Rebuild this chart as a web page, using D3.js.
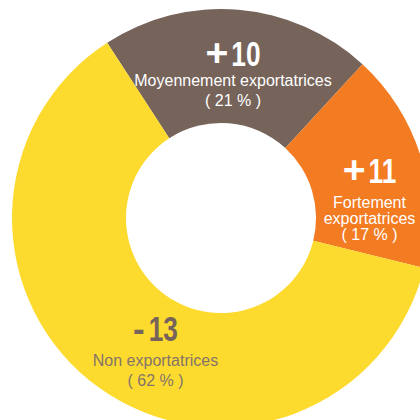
<!DOCTYPE html>
<html>
<head>
<meta charset="utf-8">
<script src="https://cdn.jsdelivr.net/npm/d3@7"></script>
<style>
  html, body { margin: 0; padding: 0; background: #ffffff; }
  svg { display: block; }
</style>
</head>
<body>
<script>
// Share of firms by export intensity, and change in number
const categories = ["Moyennement exportatrices", "Fortement exportatrices", "Non exportatrices"];
const shares = [21, 17, 62];
const changes = ["+10", "+11", "-13"];
const nameLines = [["Moyennement exportatrices"], ["Fortement", "exportatrices"], ["Non exportatrices"]];

const colors = ["#76635a", "#f37b22", "#fdda2e"];
const textColors = ["#ffffff", "#ffffff", "#76635a"];
const subColors = ["#ffffff", "#ffffff", "#84746a"];

// label anchors: centre x, baseline of the change figure, gap to first line, line step
const labelLayout = [
  { x: 233, y: 65.5, gap: 20.5, step: 19.8 },
  { x: 369.5, y: 183.3, gap: 24.3, step: 16.4 },
  { x: 155.5, y: 340.5, gap: 25.4, step: 20.4 }
];

const W = 420, H = 420;
const cx = 221, cy = 218, outerR = 209, innerR = 95;
const startAngle = -33 * Math.PI / 180;

const svg = d3.select("body").append("svg")
  .attr("width", W).attr("height", H);

const pie = d3.pie()
  .sort(null)
  .value(d => d)
  .startAngle(startAngle)
  .endAngle(startAngle + 2 * Math.PI);

const arc = d3.arc().innerRadius(innerR).outerRadius(outerR);

const g = svg.append("g").attr("transform", `translate(${cx},${cy})`);

g.selectAll("path.slice")
  .data(pie(shares))
  .join("path")
  .attr("class", "slice")
  .attr("d", arc)
  .attr("fill", (d, i) => colors[i]);

// labels
const numSize = 35, numScale = 0.75;
categories.forEach((c, i) => {
  const L = labelLayout[i];
  const lg = svg.append("g").attr("class", "label");

  const sign = changes[i].charAt(0);
  const digits = changes[i].slice(1);

  // sign is drawn at natural width, digits are condensed
  const signT = lg.append("text")
    .attr("font-family", "'Liberation Sans', Arial, sans-serif")
    .attr("font-weight", "bold")
    .attr("font-size", sign === "+" ? numSize * 1.12 : numSize)
    .attr("fill", textColors[i])
    .text(sign);
  const digT = lg.append("text")
    .attr("font-family", "'Liberation Sans', Arial, sans-serif")
    .attr("font-weight", "bold")
    .attr("font-size", numSize)
    .attr("fill", textColors[i])
    .text(digits);

  const sw = signT.node().getComputedTextLength();
  const dw = digT.node().getComputedTextLength() * numScale;
  const gapPx = sign === "+" ? 3 : 4;
  const total = sw + gapPx + dw;
  const x0 = L.x - total / 2;
  signT.attr("x", x0).attr("y", L.y);
  digT.attr("transform", `translate(${x0 + sw + gapPx},${L.y}) scale(${numScale},1)`);

  const lines = nameLines[i].concat([`( ${shares[i]} % )`]);
  lines.forEach((t, k) => {
    lg.append("text")
      .attr("x", L.x)
      .attr("y", L.y + L.gap + k * L.step)
      .attr("text-anchor", "middle")
      .attr("font-family", "'Liberation Sans', Arial, sans-serif")
      .attr("font-size", 16)
      .attr("fill", subColors[i])
      .text(t);
  });
});
</script>
</body>
</html>
